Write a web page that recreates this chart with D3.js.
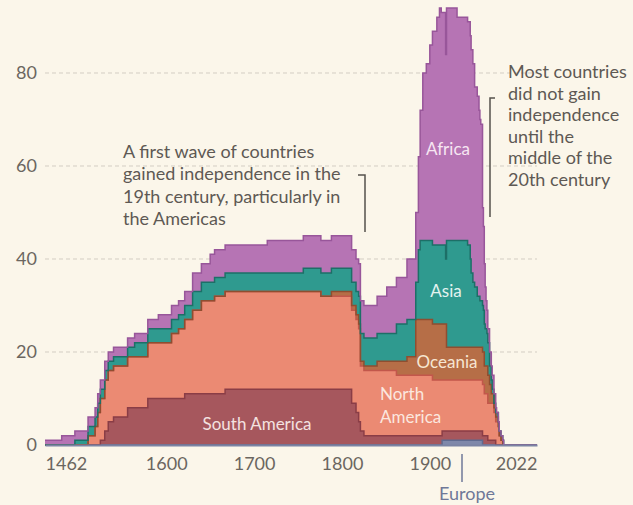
<!DOCTYPE html>
<html>
<head>
<meta charset="utf-8">
<script src="https://cdn.jsdelivr.net/npm/d3@7"></script>
<style>
  body { margin: 0; background: #fbf6ea; }
  svg { display: block; font-family: Lato, "Open Sans", sans-serif; }
</style>
</head>
<body>
<script>
// countries under colonial rule, by continent
var years         = [1462,1481,1496,1511,1519,1522,1525,1530,1534,1540,1556,1564,1579,1591,1606,1614,1621,1630,1640,1650,1655,1667,1715,1756,1776,1788,1811,1816,1819,1821,1825,1840,1851,1862,1874,1884,1887,1889,1892,1896,1900,1903,1908,1911,1913,1914,1918,1919,1931,1943,1946,1947,1949,1951,1954,1956,1957,1958,1960,1961,1962,1963,1964,1965,1966,1968,1970,1971,1973,1975,1976,1978,1979,1981,1983,1984,2022];
var europe        = [0,0,0,0,0,0,0,0,0,0,0,0,0,0,0,0,0,0,0,0,0,0,0,0,0,0,0,0,0,0,0,0,0,0,0,0,0,0,0,0,0,0,0,0,0,1,1,1,1,1,1,1,1,1,1,1,1,1,0,0,0,0,0,0,0,0,0,0,0,0,0,0,0,0,0,0,0];
var southAmerica  = [0,0,0,0,0,0,1,3,5,6,8,8,10,10,10,10,11,11,11,11,11,12,12,12,12,12,9,7,5,3,2,2,2,2,2,2,2,2,2,2,2,2,2,2,2,2,2,2,2,2,2,2,2,2,2,2,2,2,2,2,2,2,2,2,1,1,1,1,1,0,0,0,0,0,0,0,0];
var northAmerica  = [0,0,0,2,4,7,9,11,11,11,11,11,12,12,14,15,16,18,20,20,21,21,21,21,20,20,20,20,20,14,14,14,14,13,13,13,13,13,13,13,13,12,12,12,12,11,11,11,11,11,11,11,11,11,11,11,11,11,11,11,9,9,9,9,8,8,8,8,6,5,5,4,2,1,0,0,0];
var oceania       = [0,0,0,0,0,0,0,0,0,0,0,0,0,0,0,0,0,0,0,0,0,0,0,0,0,1,1,1,1,1,1,2,2,3,4,12,12,12,12,12,12,12,12,12,12,12,12,7,7,7,7,7,7,7,7,7,7,7,7,7,6,6,6,6,6,4,2,2,1,1,1,0,0,0,0,0,0];
var asia          = [0,0,1,2,2,2,2,2,2,2,2,3,3,3,3,3,3,4,4,4,4,4,4,5,5,5,5,5,6,6,6,6,6,8,8,8,15,17,17,17,17,17,17,17,17,17,14,23,23,22,19,16,14,13,11,11,10,10,10,9,9,8,8,7,7,4,3,1,1,1,1,1,1,1,1,0,0];
var africa        = [1,2,2,2,2,2,2,2,2,2,2,2,2,3,3,3,3,4,4,6,6,6,7,7,7,7,7,7,7,7,7,8,10,10,13,15,20,28,36,38,42,46,49,51,50,50,44,50,48,48,48,48,47,43,43,40,39,38,21,18,13,9,6,5,3,3,3,3,2,1,0,0,0,0,0,0,0];

var yTicks = [0, 20, 40, 60, 80];
var xTicks = [1462, 1600, 1700, 1800, 1900, 2022];

var keys   = ["europe", "southAmerica", "northAmerica", "oceania", "asia", "africa"];
var fills  = {europe: "#7f88aa", southAmerica: "#a6575d", northAmerica: "#eb8a73", oceania: "#b66e47", asia: "#2f9a8f", africa: "#b674b4"};
var lines  = {europe: "#5f6a90", southAmerica: "#8a3d46", northAmerica: "#c2574b", oceania: "#8f4e30", asia: "#1d6f67", africa: "#98569a"};

var table = years.map(function(y, i) {
  return {year: y, europe: europe[i], southAmerica: southAmerica[i], northAmerica: northAmerica[i],
          oceania: oceania[i], asia: asia[i], africa: africa[i]};
});

var width = 633, height = 505;
var x = d3.scaleLinear().domain([1462, 2022]).range([45, 537]);
var y = d3.scaleLinear().domain([0, 80]).range([445, 73]);

var svg = d3.select("body").append("svg")
  .attr("width", width)
  .attr("height", height);

svg.append("rect").attr("width", width).attr("height", height).attr("fill", "#fbf6ea");

// gridlines
svg.append("g").selectAll("line")
  .data(yTicks.filter(function(d) { return d > 0; }))
  .enter().append("line")
  .attr("x1", 45).attr("x2", 537)
  .attr("y1", function(d) { return y(d); })
  .attr("y2", function(d) { return y(d); })
  .attr("stroke", "#d3cdc3")
  .attr("stroke-dasharray", "4,3")
  .attr("stroke-width", 1);

var series = d3.stack().keys(keys)(table);

var area = d3.area()
  .curve(d3.curveStepAfter)
  .x(function(d) { return x(d.data.year); })
  .y0(function(d) { return y(d[0]); })
  .y1(function(d) { return y(d[1]); });

var topLine = d3.line()
  .curve(d3.curveStepAfter)
  .x(function(d) { return x(d.data.year); })
  .y(function(d) { return y(d[1]); });

svg.append("g").selectAll("path")
  .data(series)
  .enter().append("path")
  .attr("d", area)
  .attr("fill", function(d) { return fills[d.key]; });

svg.append("g").selectAll("path")
  .data(series)
  .enter().append("path")
  .attr("d", topLine)
  .attr("fill", "none")
  .attr("stroke", function(d) { return lines[d.key]; })
  .attr("stroke-width", 1.5);

// x axis
var xAxis = svg.append("g")
  .attr("transform", "translate(0," + y(0) + ")")
  .call(d3.axisBottom(x).tickValues(xTicks).tickFormat(d3.format("d")).tickSize(0));
xAxis.select(".domain").attr("stroke", "#7c84a4").attr("stroke-width", 2);
xAxis.selectAll("text")
  .attr("y", 25).attr("dy", 0)
  .attr("fill", "#6b6660")
  .style("font-size", "18px")
  .style("font-family", "Lato, sans-serif")
  .attr("text-anchor", function(d) { return d === 1462 ? "start" : (d === 2022 ? "end" : "middle"); });

// y labels
svg.append("g").selectAll("text")
  .data(yTicks)
  .enter().append("text")
  .attr("x", 37)
  .attr("y", function(d) { return y(d); })
  .attr("dy", "0.35em")
  .attr("text-anchor", "end")
  .attr("fill", "#6b6660")
  .style("font-size", "18px")
  .text(function(d) { return d; });

// series labels
var labels = [
  {t: ["Africa"], x: 448, y: 155, a: "middle", c: "#f6e6f2"},
  {t: ["Asia"], x: 446, y: 297, a: "middle", c: "#e3f3ef"},
  {t: ["Oceania"], x: 447, y: 368, a: "middle", c: "#f6e6d2"},
  {t: ["North", "America"], x: 380, y: 400, a: "start", c: "#fbe7df"},
  {t: ["South America"], x: 257, y: 430, a: "middle", c: "#f4e2e0"}
];
labels.forEach(function(l) {
  var t = svg.append("text")
    .attr("x", l.x).attr("y", l.y)
    .attr("text-anchor", l.a)
    .attr("fill", l.c)
    .style("font-size", "17px");
  l.t.forEach(function(s, i) {
    t.append("tspan").attr("x", l.x).attr("dy", i === 0 ? 0 : 23).text(s);
  });
});

// annotations
function note(lines, x0, y0, step) {
  var t = svg.append("text")
    .attr("x", x0).attr("y", y0)
    .attr("fill", "#5e5954")
    .style("font-size", "18px");
  lines.forEach(function(s, i) {
    t.append("tspan").attr("x", x0).attr("dy", i === 0 ? 0 : step).text(s);
  });
}
note(["A first wave of countries", "gained independence in the", "19th century, particularly in", "the Americas"], 123, 158, 22.4);
note(["Most countries", "did not gain", "independence", "until the", "middle of the", "20th century"], 508, 78, 21.6);

svg.append("path")
  .attr("d", "M358,175H365V232")
  .attr("fill", "none").attr("stroke", "#56514c").attr("stroke-width", 1.5);
svg.append("path")
  .attr("d", "M495,98H490V217")
  .attr("fill", "none").attr("stroke", "#56514c").attr("stroke-width", 1.5);

// Europe callout
svg.append("line")
  .attr("x1", 462).attr("x2", 462).attr("y1", 454).attr("y2", 482)
  .attr("stroke", "#6f7898").attr("stroke-width", 1.5);
svg.append("text")
  .attr("x", 467).attr("y", 500)
  .attr("text-anchor", "middle")
  .attr("fill", "#6f7898")
  .style("font-size", "18px")
  .text("Europe");
</script>
</body>
</html>
